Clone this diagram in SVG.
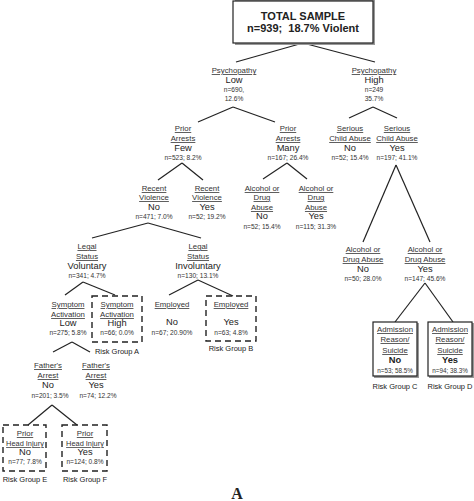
<svg xmlns="http://www.w3.org/2000/svg" width="474" height="501" viewBox="0 0 474 501">
<style>
text{font-family:"Liberation Sans",Arial,sans-serif;text-anchor:middle;fill:#222}
.lab{font-size:7.8px;text-decoration:underline;fill:#333}
.val{font-size:9.3px}
.n{font-size:6.6px;fill:#333}
.rg{font-size:7.5px}
.title{font-size:11px;font-weight:bold}
.bold{font-weight:bold}
.conn line{stroke:#222;stroke-width:1.2}
.dash{fill:none;stroke:#222;stroke-width:1.4;stroke-dasharray:6,4}
.solid{fill:#fff;stroke:#222;stroke-width:1.2}
.shadow{fill:#999}
</style>
<rect width="474" height="501" fill="#fff"/>
<g class="conn">
<line x1="303" y1="43" x2="236" y2="62"/><line x1="303" y1="43" x2="375" y2="62"/>
<line x1="233" y1="107" x2="198" y2="122"/><line x1="233" y1="107" x2="275" y2="122"/>
<line x1="373" y1="107" x2="349" y2="118"/><line x1="373" y1="107" x2="397" y2="118"/>
<line x1="182" y1="163" x2="158" y2="180"/><line x1="182" y1="163" x2="203" y2="180"/>
<line x1="287" y1="163" x2="263" y2="179"/><line x1="287" y1="163" x2="307" y2="179"/>
<line x1="396" y1="165" x2="363" y2="242"/><line x1="396" y1="165" x2="430" y2="242"/>
<line x1="148" y1="223" x2="92" y2="238"/><line x1="148" y1="223" x2="201" y2="238"/>
<line x1="425" y1="283" x2="395" y2="322"/><line x1="425" y1="283" x2="453" y2="322"/>
<line x1="83" y1="282" x2="65" y2="295"/><line x1="83" y1="282" x2="115" y2="295"/>
<line x1="198" y1="280" x2="169" y2="295"/><line x1="198" y1="280" x2="233" y2="296"/>
<line x1="72" y1="342" x2="53" y2="352"/><line x1="72" y1="342" x2="90" y2="352"/>
<line x1="52" y1="405" x2="28" y2="425"/><line x1="52" y1="405" x2="77" y2="425"/>
</g>
<g id="total">
<rect x="235" y="0" width="140" height="45" class="shadow"/>
<rect x="233" y="1" width="140" height="42" class="solid"/>
<text x="303" y="20" class="title">TOTAL SAMPLE</text>
<text x="303" y="32" class="title">n=939;&#160; 18.7% Violent</text>
</g>
<g id="psy-low">
<text x="234" y="73" class="lab">Psychopathy</text>
<text x="234" y="83" class="val">Low</text>
<text x="234" y="92" class="n">n=690,</text>
<text x="234" y="101" class="n">12.6%</text>
</g>
<g id="psy-high">
<text x="374" y="73" class="lab">Psychopathy</text>
<text x="374" y="83" class="val">High</text>
<text x="374" y="92" class="n">n=249</text>
<text x="374" y="101" class="n">35.7%</text>
</g>
<g id="arrests-few">
<text x="183" y="131" class="lab">Prior</text>
<text x="183" y="141" class="lab">Arrests</text>
<text x="183" y="151" class="val">Few</text>
<text x="183" y="160" class="n">n=523; 8.2%</text>
</g>
<g id="arrests-many">
<text x="288" y="131" class="lab">Prior</text>
<text x="288" y="141" class="lab">Arrests</text>
<text x="288" y="151" class="val">Many</text>
<text x="288" y="160" class="n">n=167; 26.4%</text>
</g>
<g id="abuse-no">
<text x="350" y="131" class="lab">Serious</text>
<text x="350" y="141" class="lab">Child Abuse</text>
<text x="350" y="151" class="val">No</text>
<text x="350" y="160" class="n">n=52; 15.4%</text>
</g>
<g id="abuse-yes">
<text x="397" y="131" class="lab">Serious</text>
<text x="397" y="141" class="lab">Child Abuse</text>
<text x="397" y="151" class="val">Yes</text>
<text x="397" y="160" class="n">n=197; 41.1%</text>
</g>
<g id="violence-no">
<text x="154" y="191" class="lab">Recent</text>
<text x="154" y="200" class="lab">Violence</text>
<text x="154" y="210" class="val">No</text>
<text x="154" y="219" class="n">n=471; 7.0%</text>
</g>
<g id="violence-yes">
<text x="207" y="191" class="lab">Recent</text>
<text x="207" y="200" class="lab">Violence</text>
<text x="207" y="210" class="val">Yes</text>
<text x="207" y="219" class="n">n=52; 19.2%</text>
</g>
<g id="alc1-no">
<text x="262" y="191" class="lab">Alcohol or</text>
<text x="262" y="200" class="lab">Drug</text>
<text x="262" y="210" class="lab">Abuse</text>
<text x="262" y="219" class="val">No</text>
<text x="262" y="229" class="n">n=52; 15.4%</text>
</g>
<g id="alc1-yes">
<text x="316" y="191" class="lab">Alcohol or</text>
<text x="316" y="200" class="lab">Drug</text>
<text x="316" y="210" class="lab">Abuse</text>
<text x="316" y="219" class="val">Yes</text>
<text x="316" y="229" class="n">n=115; 31.3%</text>
</g>
<g id="alc2-no">
<text x="363" y="252" class="lab">Alcohol or</text>
<text x="363" y="262" class="lab">Drug Abuse</text>
<text x="363" y="272" class="val">No</text>
<text x="363" y="281" class="n">n=50; 28.0%</text>
</g>
<g id="alc2-yes">
<text x="425" y="252" class="lab">Alcohol or</text>
<text x="425" y="262" class="lab">Drug Abuse</text>
<text x="425" y="272" class="val">Yes</text>
<text x="425" y="281" class="n">n=147; 45.6%</text>
</g>
<g id="legal-vol">
<text x="87" y="249" class="lab">Legal</text>
<text x="87" y="259" class="lab">Status</text>
<text x="87" y="269" class="val">Voluntary</text>
<text x="87" y="278" class="n">n=341; 4.7%</text>
</g>
<g id="legal-invol">
<text x="198" y="249" class="lab">Legal</text>
<text x="198" y="259" class="lab">Status</text>
<text x="198" y="269" class="val">Involuntary</text>
<text x="198" y="278" class="n">n=130; 13.1%</text>
</g>
<g id="symptom-low">
<text x="68" y="307" class="lab">Symptom</text>
<text x="68" y="317" class="lab">Activation</text>
<text x="68" y="326" class="val">Low</text>
<text x="68" y="335" class="n">n=275; 5.8%</text>
</g>
<g id="symptom-high">
<rect x="92" y="296" width="50" height="46" class="dash"/>
<text x="117" y="307" class="lab">Symptom</text>
<text x="117" y="317" class="lab">Activation</text>
<text x="117" y="326" class="val">High</text>
<text x="117" y="335" class="n">n=66; 0.0%</text>
<text x="117" y="354" class="rg">Risk Group A</text>
</g>
<g id="employed-no">
<text x="172" y="307" class="lab">Employed</text>
<text x="172" y="325" class="val">No</text>
<text x="172" y="335" class="n">n=67; 20.90%</text>
</g>
<g id="employed-yes">
<rect x="206" y="296" width="50" height="45" class="dash"/>
<text x="231" y="307" class="lab">Employed</text>
<text x="231" y="325" class="val">Yes</text>
<text x="231" y="335" class="n">n=63; 4.8%</text>
<text x="231" y="351" class="rg">Risk Group B</text>
</g>
<g id="father-no">
<text x="48" y="368" class="lab">Father's</text>
<text x="48" y="378" class="lab">Arrest</text>
<text x="48" y="388" class="val">No</text>
<text x="50" y="398" class="n">n=201; 3.5%</text>
</g>
<g id="father-yes">
<text x="96" y="368" class="lab">Father's</text>
<text x="96" y="378" class="lab">Arrest</text>
<text x="96" y="388" class="val">Yes</text>
<text x="98" y="398" class="n">n=74; 12.2%</text>
</g>
<g id="head-no">
<rect x="3" y="425" width="43" height="46" class="dash"/>
<text x="25" y="436" class="lab">Prior</text>
<text x="25" y="446" class="lab" style="font-size:7.4px">Head Injury</text>
<text x="25" y="455" class="val">No</text>
<text x="25" y="464" class="n">n=77; 7.8%</text>
<text x="25" y="482" class="rg">Risk Group E</text>
</g>
<g id="head-yes">
<rect x="62" y="425" width="45" height="46" class="dash"/>
<text x="85" y="436" class="lab">Prior</text>
<text x="85" y="446" class="lab" style="font-size:7.4px">Head Injury</text>
<text x="85" y="455" class="val">Yes</text>
<text x="85" y="464" class="n">n=124; 0.8%</text>
<text x="85" y="482" class="rg">Risk Group F</text>
</g>
<g id="admission-no">
<rect x="374" y="323" width="45" height="55" class="shadow"/>
<rect x="373" y="322" width="44" height="54" class="solid"/>
<text x="395" y="332" class="lab">Admission</text>
<text x="395" y="342" class="lab">Reason/</text>
<text x="395" y="353" class="lab">Suicide</text>
<text x="395" y="363" class="val bold">No</text>
<text x="395" y="373" class="n" style="font-size:6.3px">n=53; 58.5%</text>
<text x="395" y="389" class="rg">Risk Group C</text>
</g>
<g id="admission-yes">
<rect x="429" y="323" width="45" height="55" class="shadow"/>
<rect x="428" y="322" width="44" height="54" class="solid"/>
<text x="450" y="332" class="lab">Admission</text>
<text x="450" y="342" class="lab">Reason/</text>
<text x="450" y="353" class="lab">Suicide</text>
<text x="450" y="363" class="val bold">Yes</text>
<text x="450" y="373" class="n" style="font-size:6.3px">n=94; 38.3%</text>
<text x="450" y="389" class="rg">Risk Group D</text>
</g>
<text x="237" y="499" style="font-family:'Liberation Serif','Times New Roman',serif;font-weight:bold;font-size:16px">A</text>
</svg>
